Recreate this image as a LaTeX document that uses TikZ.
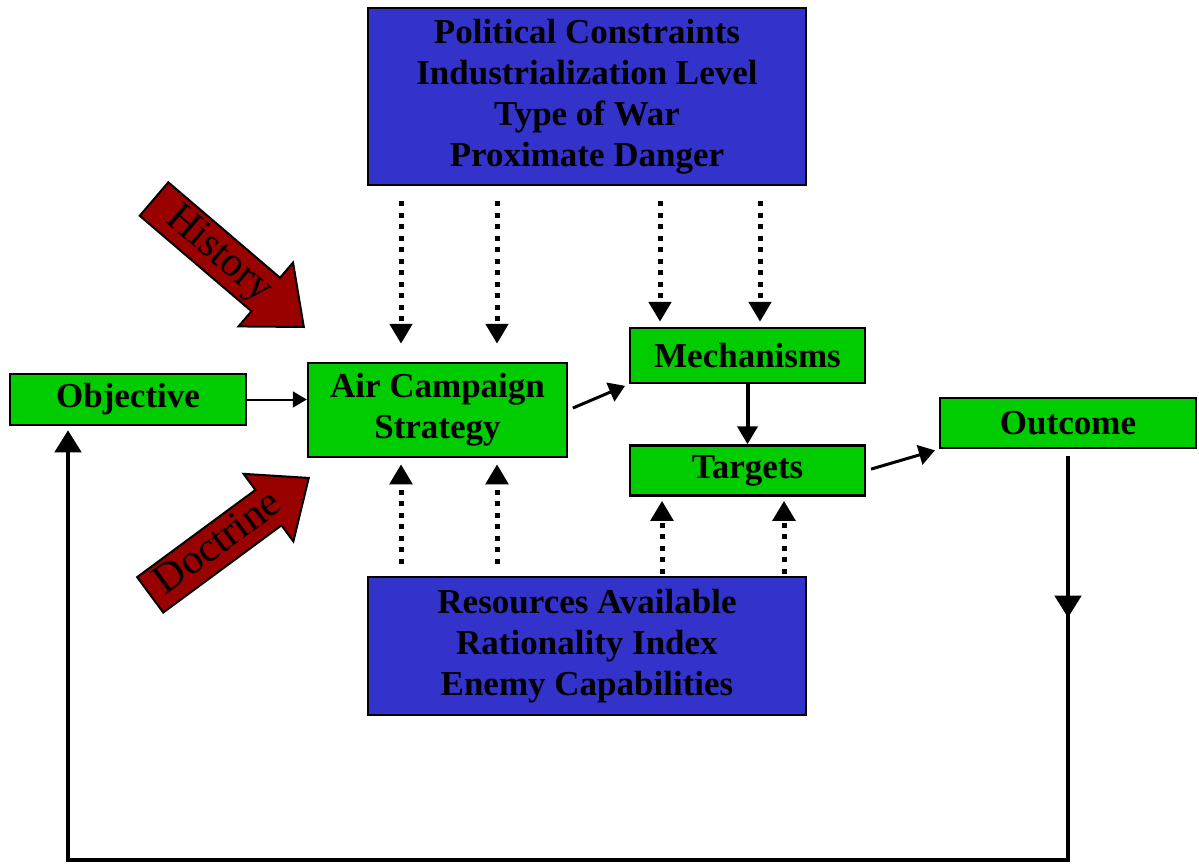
\documentclass[tikz,border=0pt]{standalone}
\usepackage{fontspec}
\setmainfont{Liberation Serif}
\usetikzlibrary{shapes.arrows, arrows.meta, positioning, calc}

\definecolor{boxblue}{RGB}{51,51,204}
\definecolor{boxgreen}{RGB}{0,204,0}
\definecolor{forcered}{RGB}{153,0,0}

\begin{document}
\begin{tikzpicture}[
    x=1pt, y=-1pt,
    box/.style={rectangle, draw, line width=2.5pt, align=center, inner sep=0pt,
        font=\fontsize{35}{41}\selectfont\bfseries},
    bluebox/.style={box, fill=boxblue, minimum width=438pt},
    greenbox/.style={box, fill=boxgreen},
    forcearrow/.style={single arrow, draw, line width=2pt, fill=forcered,
        single arrow head extend=20pt, single arrow tip angle=80,
        minimum height=197pt, inner sep=2pt, text height=29pt, text depth=9pt,
        font=\fontsize{42}{42}\selectfont},
    dotarrow/.style={line width=5pt, dash pattern=on 5pt off 6.5pt,
        -{Triangle[width=22pt,length=20pt]}},
    thinarrow/.style={line width=3pt, -{Triangle[width=20pt,length=16pt]}},
    fb/.style={line width=4.5pt}
]
    \useasboundingbox (0,0) rectangle (1199,865);

    \node[bluebox, minimum height=177pt] (factors) at (587,96.5)
        {Political Constraints\\Industrialization Level\\Type of War\\Proximate Danger};
    \node[bluebox, minimum height=138pt] (resources) at (587,646)
        {Resources Available\\Rationality Index\\Enemy Capabilities};

    \node[greenbox, minimum width=236pt, minimum height=51pt] (obj) at (128,399.5) {Objective};
    \node[greenbox, minimum width=259pt, minimum height=94pt] (air) at (437.5,410) {Air Campaign\\Strategy};
    \node[greenbox, minimum width=235pt, minimum height=55pt] (mech) at (747.5,355.5) {Mechanisms};
    \node[greenbox, minimum width=235pt, minimum height=50pt, below=60pt of mech] (targets) {Targets};
    \node[greenbox, minimum width=256pt, minimum height=50pt] (outcome) at (1068,423) {Outcome};

    \node[forcearrow, rotate=-40.5, anchor=tip] (history) at (305,328) {History};
    \node[forcearrow, rotate=36.4, anchor=tip] (doctrine) at (310,477) {Doctrine};

    \coordinate (c1) at (401,0);
    \coordinate (c2) at (497,0);
    \coordinate (c3) at (660,0);
    \coordinate (c4) at (760,0);
    \coordinate (c5) at (662,0);
    \coordinate (c6) at (784,0);
    \coordinate (c0) at (68,860);

    \draw[dotarrow, shorten <=15pt, shorten >=18pt] (factors.south -| c1) -- (air.north -| c1);
    \draw[dotarrow, shorten <=15pt, shorten >=18pt] (factors.south -| c2) -- (air.north -| c2);
    \draw[dotarrow, shorten <=15pt, shorten >=5pt] (factors.south -| c3) -- (mech.north -| c3);
    \draw[dotarrow, shorten <=15pt, shorten >=5pt] (factors.south -| c4) -- (mech.north -| c4);

    \draw[dotarrow, shorten <=12pt, shorten >=6pt] (resources.north -| c1) -- (air.south -| c1);
    \draw[dotarrow, shorten <=12pt, shorten >=6pt] (resources.north -| c2) -- (air.south -| c2);
    \draw[dotarrow, shorten <=2pt, shorten >=4pt] (resources.north -| c5) -- (targets.south -| c5);
    \draw[dotarrow, shorten <=2pt, shorten >=4pt] (resources.north -| c6) -- (targets.south -| c6);

    \draw[line width=2pt, -{Triangle[width=16pt,length=14pt]}] (obj.east) -- (obj.east -| air.west);
    \draw[thinarrow, shorten <=5pt, shorten >=4pt] (air.east) -- (mech.south west);
    \draw[line width=4pt, -{Triangle[width=20pt,length=18pt]}] (mech) -- (targets);
    \draw[thinarrow, shorten <=5pt, shorten >=4pt] (targets.east) -- (outcome.south west);

    \draw[fb, shorten <=7pt, -{Triangle[width=26pt,length=22pt]}]
        (outcome.south) -- ($(outcome.south)!0.41!(outcome.south |- c0)$);
    \draw[fb, shorten <=7pt, shorten >=4pt, -{Triangle[width=26pt,length=22pt]}]
        (outcome.south) |- (c0) -- (c0 |- obj.south);
\end{tikzpicture}
\end{document}
